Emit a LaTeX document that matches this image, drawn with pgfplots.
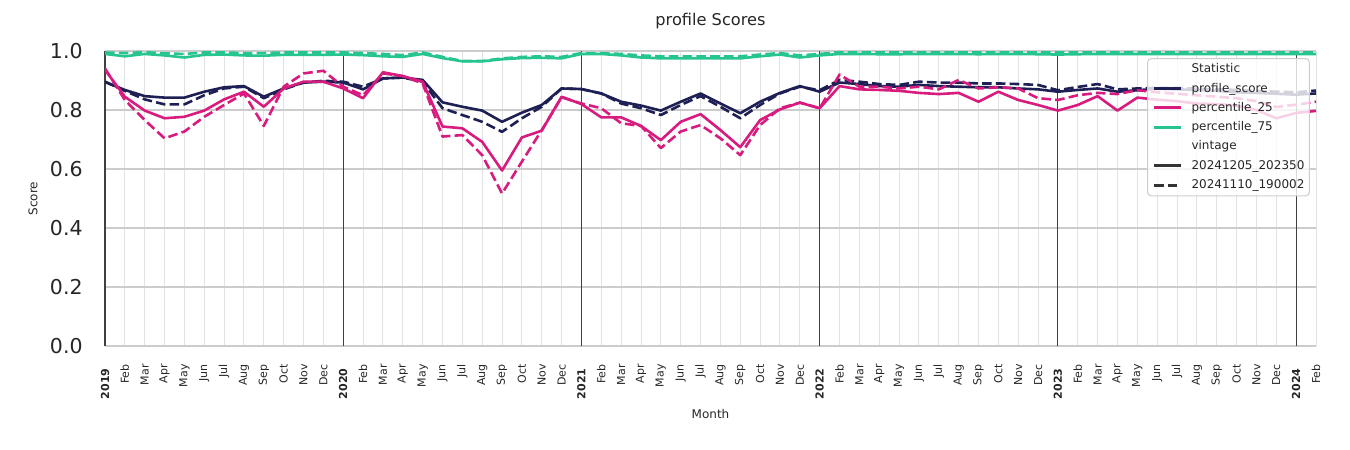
\documentclass[border=0pt]{standalone}
\usepackage{fontspec}
\setmainfont{DejaVu Sans}
\usepackage{pgfplots}
\usepackage{pgfplotstable}
\pgfplotsset{compat=1.18}

\definecolor{navy}{RGB}{30,31,84}
\definecolor{mag}{RGB}{216,27,126}
\definecolor{grn}{RGB}{38,196,142}
\definecolor{txt}{RGB}{38,38,38}
\definecolor{hgrid}{RGB}{204,204,204}
\definecolor{vgrid}{RGB}{226,226,226}
\definecolor{yeargrid}{RGB}{64,64,64}
\definecolor{vint}{RGB}{51,51,51}

% vintage 20241205_202350
\pgfplotstableread{
m profile p25 p75
0 0.895 0.936 0.990
1 0.868 0.845 0.982
2 0.847 0.798 0.990
3 0.842 0.772 0.985
4 0.842 0.777 0.978
5 0.862 0.798 0.987
6 0.877 0.836 0.988
7 0.881 0.862 0.985
8 0.845 0.811 0.984
9 0.873 0.873 0.987
10 0.893 0.896 0.987
11 0.896 0.896 0.987
12 0.893 0.873 0.988
13 0.870 0.840 0.986
14 0.907 0.928 0.982
15 0.910 0.915 0.980
16 0.902 0.896 0.990
17 0.826 0.744 0.976
18 0.811 0.738 0.965
19 0.798 0.692 0.965
20 0.760 0.595 0.972
21 0.791 0.707 0.976
22 0.817 0.730 0.977
23 0.873 0.845 0.975
24 0.871 0.820 0.990
25 0.856 0.775 0.990
26 0.828 0.775 0.985
27 0.815 0.746 0.978
28 0.798 0.698 0.975
29 0.828 0.760 0.975
30 0.856 0.786 0.975
31 0.822 0.732 0.975
32 0.789 0.674 0.975
33 0.828 0.766 0.982
34 0.858 0.802 0.988
35 0.881 0.825 0.978
36 0.862 0.806 0.985
37 0.893 0.881 0.990
38 0.888 0.870 0.990
39 0.881 0.868 0.989
40 0.879 0.865 0.989
41 0.885 0.858 0.990
42 0.881 0.854 0.990
43 0.879 0.858 0.990
44 0.877 0.828 0.989
45 0.877 0.862 0.990
46 0.873 0.834 0.990
47 0.870 0.817 0.989
48 0.862 0.798 0.988
49 0.868 0.817 0.989
50 0.873 0.847 0.990
51 0.862 0.798 0.990
52 0.867 0.842 0.990
53 0.872 0.835 0.990
54 0.870 0.830 0.990
55 0.868 0.822 0.990
56 0.865 0.820 0.990
57 0.860 0.815 0.990
58 0.858 0.800 0.990
59 0.855 0.772 0.990
60 0.852 0.790 0.990
61 0.856 0.797 0.990
}\vintageA

% vintage 20241110_190002
\pgfplotstableread{
m profile p25 p75
0 0.896 0.941 0.995
1 0.865 0.834 0.993
2 0.836 0.766 0.996
3 0.819 0.704 0.992
4 0.819 0.727 0.990
5 0.850 0.777 0.995
6 0.873 0.817 0.995
7 0.879 0.856 0.993
8 0.840 0.746 0.993
9 0.870 0.879 0.995
10 0.893 0.924 0.995
11 0.899 0.933 0.995
12 0.896 0.879 0.995
13 0.879 0.850 0.993
14 0.907 0.924 0.990
15 0.910 0.915 0.986
16 0.896 0.890 0.995
17 0.806 0.710 0.980
18 0.783 0.715 0.966
19 0.760 0.647 0.966
20 0.726 0.517 0.975
21 0.772 0.625 0.980
22 0.811 0.732 0.982
23 0.873 0.843 0.980
24 0.871 0.822 0.993
25 0.856 0.806 0.993
26 0.822 0.755 0.990
27 0.806 0.746 0.985
28 0.783 0.671 0.982
29 0.817 0.727 0.982
30 0.847 0.749 0.982
31 0.811 0.704 0.982
32 0.772 0.647 0.982
33 0.817 0.749 0.988
34 0.856 0.806 0.993
35 0.879 0.825 0.985
36 0.867 0.806 0.990
37 0.902 0.920 0.996
38 0.896 0.879 0.996
39 0.888 0.879 0.996
40 0.885 0.873 0.996
41 0.896 0.879 0.996
42 0.893 0.870 0.996
43 0.893 0.902 0.996
44 0.890 0.873 0.996
45 0.890 0.877 0.996
46 0.888 0.873 0.996
47 0.885 0.840 0.996
48 0.867 0.834 0.996
49 0.878 0.850 0.996
50 0.888 0.858 0.996
51 0.870 0.854 0.996
52 0.873 0.867 0.996
53 0.875 0.860 0.996
54 0.875 0.855 0.996
55 0.872 0.850 0.996
56 0.870 0.845 0.996
57 0.868 0.840 0.996
58 0.865 0.830 0.996
59 0.862 0.810 0.996
60 0.860 0.818 0.996
61 0.866 0.828 0.996
}\vintageB

\tikzset{
  sline/.style={line width=1.3pt, line join=round},
  dline/.style={line width=1.3pt, line join=round, dash pattern=on 4.8pt off 2.1pt},
}

\begin{document}
\begin{tikzpicture}
\path[use as bounding box] (-52.5pt,-52pt) rectangle (622.5pt,173pt);
\begin{axis}[
    at={(0,0)}, anchor=south west,
    width=605.5pt, height=147.5pt, scale only axis,
    xmin=0, xmax=61, ymin=0, ymax=1,
    axis line style={draw=none},
    major tick length=0pt,
    tick style={draw=none},
    /pgf/number format/assume math mode=true,
    xtick={0,...,61},
    xticklabels={\textbf{2019}\kern2pt,Feb,Mar,Apr,May,Jun,Jul,Aug,Sep,Oct,Nov,Dec,
                 \textbf{2020}\kern2pt,Feb,Mar,Apr,May,Jun,Jul,Aug,Sep,Oct,Nov,Dec,
                 \textbf{2021}\kern2pt,Feb,Mar,Apr,May,Jun,Jul,Aug,Sep,Oct,Nov,Dec,
                 \textbf{2022}\kern2pt,Feb,Mar,Apr,May,Jun,Jul,Aug,Sep,Oct,Nov,Dec,
                 \textbf{2023}\kern2pt,Feb,Mar,Apr,May,Jun,Jul,Aug,Sep,Oct,Nov,Dec,
                 \textbf{2024}\kern2pt,Feb},
    xticklabel style={yshift=-9pt, rotate=90, anchor=east, inner sep=0pt,
                      font=\fontsize{5.5}{6}\selectfont, text=txt},
    ytick={0,0.2,0.4,0.6,0.8,1},
    yticklabel style={/pgf/number format/fixed, /pgf/number format/fixed zerofill,
                      /pgf/number format/precision=1,
                      anchor=east, inner sep=0pt, xshift=-11pt,
                      font=\fontsize{10.25}{12}\selectfont, text=txt},
    xmajorgrids, ymajorgrids,
    x grid style={draw=vgrid, line width=0.5pt},
    y grid style={draw=hgrid, line width=0.85pt},
    extra x ticks={0,12,24,36,48,60},
    extra x tick labels={},
    extra x tick style={grid=major,
                        x grid style={draw=yeargrid, line width=0.55pt},
                        major grid style={draw=yeargrid, line width=0.55pt}},
    title={profile Scores},
    title style={at={(axis description cs:0.5,1.061)}, anchor=center,
                 font=\fontsize{8.1}{10}\selectfont, text=txt},
    xlabel={Month},
    xlabel style={at={(axis description cs:0.5,-0.2305)}, anchor=center,
                  font=\fontsize{6}{7}\selectfont, text=txt},
    ylabel={Score},
    ylabel style={at={(axis description cs:-0.0595,0.5)}, anchor=center,
                  font=\fontsize{6}{7}\selectfont, text=txt},
    legend cell align=left,
    legend image code/.code={\draw[#1] (0pt,0pt) -- (13.5pt,0pt);},
    legend style={at={(0.995,0.976)}, anchor=north east,
                  fill=white, fill opacity=0.8, text opacity=1, draw opacity=1,
                  draw=hgrid, line width=0.5pt, rounded corners=2pt,
                  font=\fontsize{6}{7}\selectfont, text=txt,
                  inner sep=2.5pt, row sep=3.85pt, column sep=4.5pt,
                  nodes={inner sep=0pt, text height=4.6pt, text depth=1.2pt}},
]
\addplot[navy, sline, forget plot] table[x=m, y=profile] {\vintageA};
\addplot[navy, dline, forget plot] table[x=m, y=profile] {\vintageB};
\addplot[mag, sline, forget plot] table[x=m, y=p25] {\vintageA};
\addplot[mag, dline, forget plot] table[x=m, y=p25] {\vintageB};
\addplot[grn, sline, forget plot] table[x=m, y=p75] {\vintageA};
\addplot[grn, dline, forget plot] table[x=m, y=p75] {\vintageB};

\addlegendimage{draw opacity=0}
\addlegendentry{Statistic}
\addlegendimage{navy, line width=1.5pt}
\addlegendentry{profile\_score}
\addlegendimage{mag, line width=1.5pt}
\addlegendentry{percentile\_25}
\addlegendimage{grn, line width=1.5pt}
\addlegendentry{percentile\_75}
\addlegendimage{draw opacity=0}
\addlegendentry{vintage}
\addlegendimage{vint, line width=1.5pt}
\addlegendentry{20241205\_202350}
\addlegendimage{vint, line width=1.5pt, dash pattern=on 4.8pt off 2.1pt}
\addlegendentry{20241110\_190002}
\end{axis}
\end{tikzpicture}
\end{document}
